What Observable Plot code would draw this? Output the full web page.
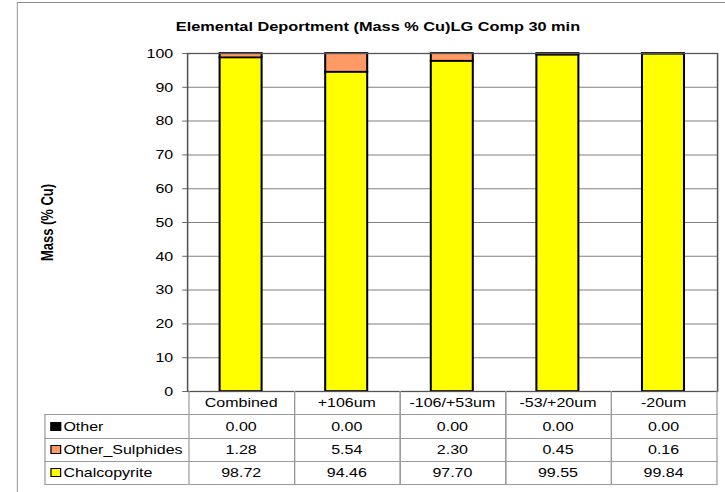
<!DOCTYPE html>
<html>
<head>
<meta charset="utf-8">
<script src="https://cdn.jsdelivr.net/npm/d3@7"></script>
<script src="https://cdn.jsdelivr.net/npm/@observablehq/plot@0.6"></script>
<style>
  html, body { margin: 0; padding: 0; background: #fff; }
  body { width: 725px; height: 492px; overflow: hidden; }
  #wrap { position: relative; width: 604.17px; height: 492px; transform: scaleX(1.2); transform-origin: 0 0;
          font-family: "Liberation Sans", Arial, sans-serif; color: #000; }
  #frame { position: absolute; left: 13.5px; top: 2px; width: 700px; height: 600px;
           border-left: 1.6px solid #a8a8a8; border-top: 1px solid #8c8c8c; }
  #title { position: absolute; left: 0; width: 630px; top: 19px; text-align: center;
           font-weight: bold; font-size: 13.6px; }
  #plot { position: absolute; left: 0; top: 0; }
  .cell { position: absolute; box-sizing: border-box; font-size: 13.33px; display: flex;
          align-items: center; justify-content: center; white-space: nowrap; }
  .lab { justify-content: flex-start; padding-left: 4.4px; }
  .sw { display: inline-block; width: 9px; height: 9px; box-sizing: border-box; border: 1px solid #000;
        margin-right: 1.8px; }
</style>
</head>
<body>
<div id="wrap">
  <div id="frame"></div>
  <div id="title">Elemental Deportment (Mass % Cu)LG Comp 30 min</div>
  <div id="plot"></div>
</div>
<script>
// ---- data ----
const categories = ["Combined", "+106um", "-106/+53um", "-53/+20um", "-20um"];
const seriesNames = ["Chalcopyrite", "Other_Sulphides", "Other"];
const chalcopyrite = [98.72, 94.46, 97.70, 99.55, 99.84];
const otherSulphides = [1.28, 5.54, 2.30, 0.45, 0.16];
const other = [0.00, 0.00, 0.00, 0.00, 0.00];
const yTicks = [0, 10, 20, 30, 40, 50, 60, 70, 80, 90, 100];
const seriesColors = ["#FFFF00", "#FF9966", "#000000"];

const seriesValues = [chalcopyrite, otherSulphides, other];
const rows = [];
seriesValues.forEach((vals, si) => vals.forEach((v, i) =>
  rows.push({cat: categories[i], series: seriesNames[si], value: v})));

const S = 1.2;
const W = 725 / S;
const plotLeft = 187 / S, plotRight = 717 / S;

const plot = Plot.plot({
  width: W, height: 400,
  marginTop: 53, marginBottom: 9, marginLeft: plotLeft, marginRight: W - plotRight,
  style: {fontFamily: "'Liberation Sans', Arial, sans-serif", fontSize: "13.33px", background: "transparent", overflow: "visible"},
  x: {domain: categories, paddingInner: 0.6, paddingOuter: 0.3, axis: null},
  y: {domain: [0, 100]},
  color: {domain: seriesNames, range: seriesColors},
  marks: [
    Plot.gridY(yTicks.slice(1), {stroke: "#808080", strokeOpacity: 1}),
    Plot.barY(rows, {x: "cat", y: "value", fill: "series", stroke: "#000", strokeWidth: 1.7}),
    Plot.frame({stroke: "#555", strokeWidth: 1.3}),
    Plot.axisY({ticks: yTicks, tickSize: 4, tickPadding: 8, stroke: "#666", fill: "#000",
                label: "Mass (% Cu)", labelAnchor: "center", labelArrow: "none", labelOffset: 121})
  ]
});
d3.select(plot).selectAll('[aria-label="y-axis label"], [aria-label="y-axis label"] text')
  .attr("font-weight", "bold").style("font-size", "13px");
document.getElementById("plot").appendChild(plot);

// ---- data table under the chart, columns from the x scale ----
const wrap = document.getElementById("wrap");
const xs = plot.scale("x");
const ys = plot.scale("y");
const step = xs.step;
const colLeft = c => xs.apply(c) - (step - xs.bandwidth) / 2;
const top0 = ys.apply(0);
const rowH = 23.25;
const tableLeft = 44 / S;
const lineCol = "#9a9a9a";

function cell(x, y, w, h, html, cls, borders) {
  const d = document.createElement("div");
  d.className = "cell" + (cls ? " " + cls : "");
  Object.assign(d.style, {left: x + "px", top: y + "px", width: w + "px", height: h + "px"});
  for (const b of borders) d.style["border" + b] = "1px solid " + lineCol;
  d.innerHTML = html;
  wrap.appendChild(d);
}
// header row of categories
categories.forEach((c, i) => {
  cell(colLeft(c), top0, step + 1, rowH + 1, c, "", ["Left", "Right", "Bottom"]);
});
// series rows (top: Other .. bottom: Chalcopyrite)
const tableOrder = [2, 1, 0];
tableOrder.forEach((si, r) => {
  const y = top0 + rowH * (r + 1);
  cell(tableLeft, y, plotLeft - tableLeft + 1, rowH + 1,
       `<span class="sw" style="background:${seriesColors[si]}"></span>${seriesNames[si]}`,
       "lab", ["Left", "Top", "Bottom"]);
  categories.forEach((c, i) => {
    cell(colLeft(c), y, step + 1, rowH + 1, seriesValues[si][i].toFixed(2), "", ["Left", "Right", "Top", "Bottom"]);
  });
});
</script>
</body>
</html>
